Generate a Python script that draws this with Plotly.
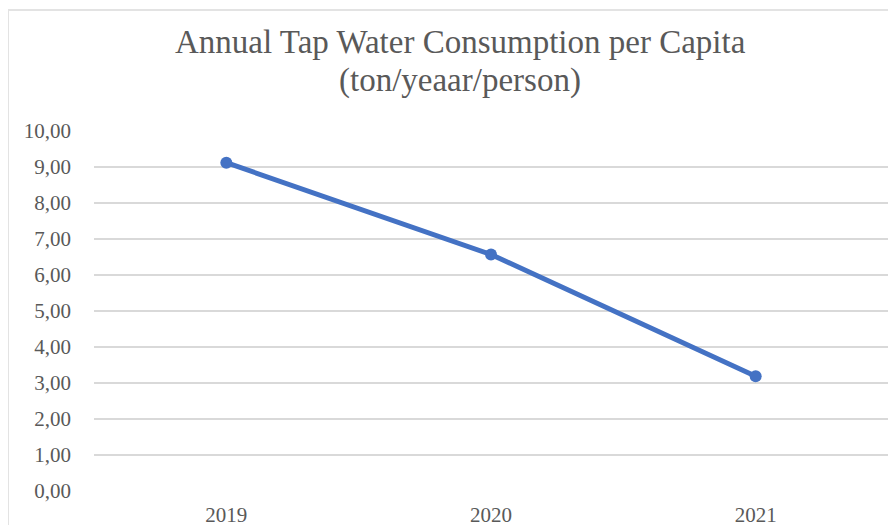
import plotly.graph_objects as go

years = ["2019", "2020", "2021"]
consumption = [9.12, 6.57, 3.19]
y_ticks = [0, 1, 2, 3, 4, 5, 6, 7, 8, 9, 10]
y_tick_labels = ["0,00", "1,00", "2,00", "3,00", "4,00", "5,00", "6,00", "7,00", "8,00", "9,00", "10,00"]
title_lines = ["Annual Tap Water Consumption per Capita", "(ton/yeaar/person)"]

# page has an 8px body margin; compensate
W, H = 888, 517
L, R, T, B = 86, 8, 123, 34
PW, PH = W - L - R, H - T - B
OFF = 8

def px_x(page_x):
    return (page_x - OFF - L) / PW

def px_y(page_y):
    return 1 - (page_y - OFF - T) / PH

fig = go.Figure()
fig.add_trace(go.Scatter(
    x=[0, 1, 2], y=consumption, mode="lines+markers",
    line=dict(color="#4472C4", width=5),
    marker=dict(color="#4472C4", size=12),
    showlegend=False,
))

font_family = "Liberation Serif"
annotations = []
for i, line in enumerate(title_lines):
    annotations.append(dict(
        text=line, xref="paper", yref="paper", x=px_x(460), y=px_y(42 + 38 * i),
        xanchor="center", yanchor="middle", showarrow=False,
        font=dict(family=font_family, size=33, color="#595959"),
    ))

fig.update_layout(
    width=W, height=H,
    margin=dict(l=L, r=R, t=T, b=B),
    paper_bgcolor="white", plot_bgcolor="white",
    font=dict(family=font_family, color="#595959", size=21),
    annotations=annotations,
    xaxis=dict(
        range=[-0.5, 2.5], tickmode="array", tickvals=[0, 1, 2], ticktext=years,
        showgrid=False, zeroline=False, showline=False, ticks="",
        ticklabelstandoff=9, automargin=False,
        tickfont=dict(family=font_family, size=21, color="#595959"),
    ),
    yaxis=dict(
        range=[0, 10], tickmode="array", tickvals=y_ticks, ticktext=y_tick_labels,
        showgrid=True, gridcolor="#D9D9D9", gridwidth=2, zeroline=False,
        showline=False, ticks="", ticklabelstandoff=22, automargin=False,
        tickfont=dict(family=font_family, size=21, color="#595959"),
    ),
    shapes=[
        dict(type="line", xref="paper", yref="paper",
             x0=px_x(8), x1=px_x(8), y0=px_y(530), y1=px_y(10),
             line=dict(color="#E3E3E3", width=2)),
        dict(type="line", xref="paper", yref="paper",
             x0=px_x(8), x1=px_x(900), y0=px_y(10), y1=px_y(10),
             line=dict(color="#E3E3E3", width=2)),
    ],
)

fig.write_html("out.html")
